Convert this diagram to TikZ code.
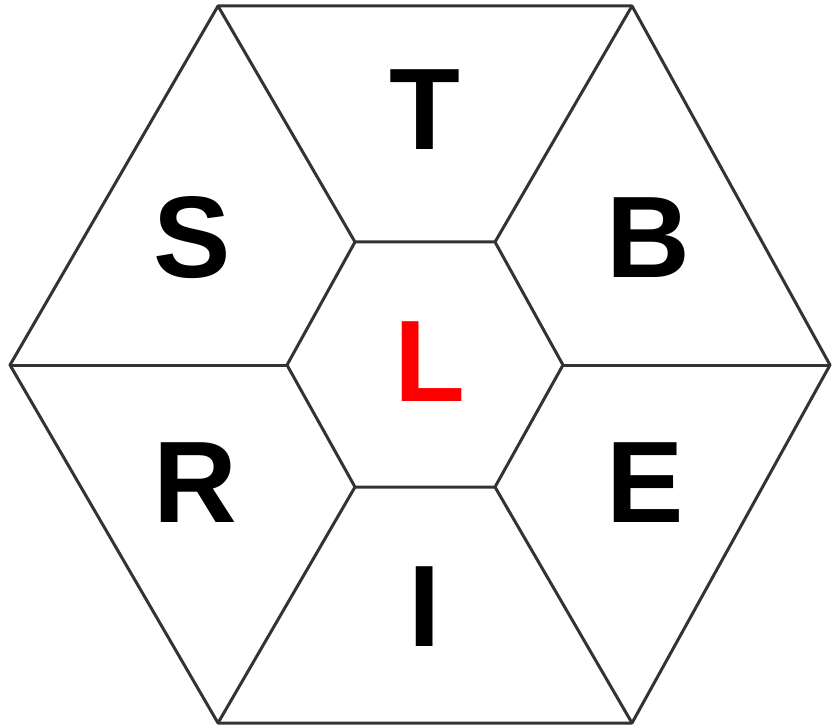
\documentclass[tikz,border=0pt]{standalone}
\usepackage{fontspec}
\setmainfont{Liberation Sans}
\begin{document}
\begin{tikzpicture}[x=1pt,y=-1pt,
  edge/.style={draw=black!80,line width=3pt,line join=round},
  letter/.style={font=\fontsize{116}{116}\selectfont\bfseries,inner sep=0pt,text=black}]
\useasboundingbox (0,0) rectangle (832,727);
\coordinate (o1) at (218,6);
\coordinate (o2) at (632,6);
\coordinate (o3) at (830,365);
\coordinate (o4) at (632,723);
\coordinate (o5) at (218,723);
\coordinate (o6) at (10,365);
\coordinate (i1) at (355,242);
\coordinate (i2) at (495,242);
\coordinate (i3) at (563,365);
\coordinate (i4) at (495,487);
\coordinate (i5) at (355,487);
\coordinate (i6) at (287,365);
\draw[edge] (o1)--(o2)--(o3)--(o4)--(o5)--(o6)--cycle;
\draw[edge] (i1)--(i2)--(i3)--(i4)--(i5)--(i6)--cycle;
\foreach \k in {1,...,6}{\draw[edge] (o\k)--(i\k);}
\node[letter] (T) at (425,110) {T};
\node[letter] (S) at (192,238) {S};
\node[letter] (B) at (648,238) {B};
\node[letter,text=red] (L) at (430,362) {L};
\node[letter] (R) at (195,483) {R};
\node[letter] (E) at (645,483) {E};
\node[letter] (I) at (425,607) {I};
\end{tikzpicture}
\end{document}
